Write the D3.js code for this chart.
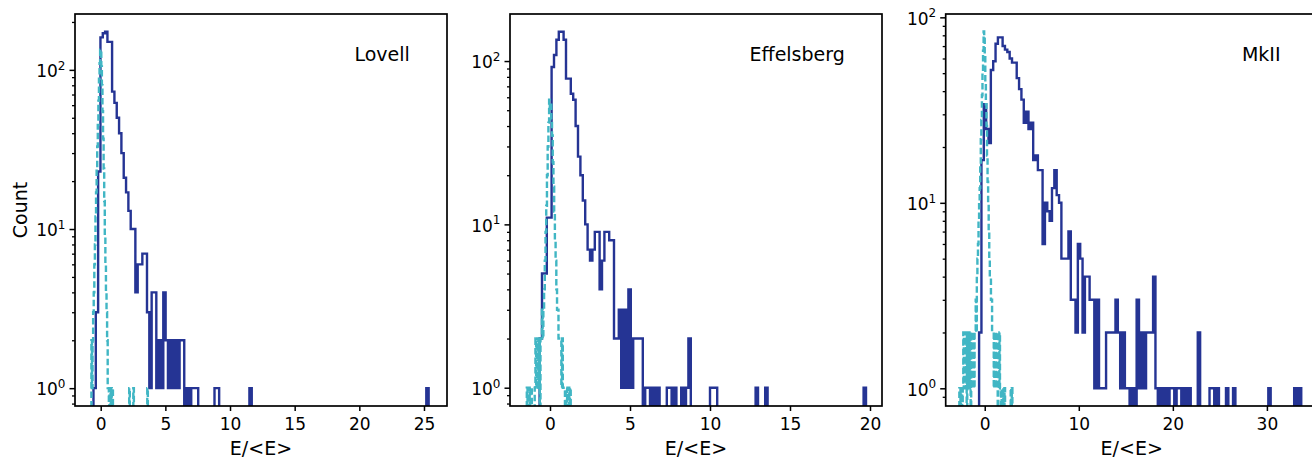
<!DOCTYPE html>
<html><head><meta charset="utf-8">
<script src="https://cdn.jsdelivr.net/npm/d3@7"></script>
<style>
html,body{margin:0;padding:0;background:#fff;}
svg{display:block;}
text{font-family:"DejaVu Sans",sans-serif;fill:#000;}
</style></head><body>
<svg id="chart" width="1312" height="458"></svg>
<script>
// ---------------- DATA ----------------
const telescopes = ["Lovell", "Effelsberg", "MkII"];
const xTickValues = [[0, 5, 10, 15, 20, 25], [0, 5, 10, 15, 20], [0, 10, 20, 30]];
const yTickExponents = [0, 1, 2];
const xAxisLabel = "E/<E>";
const yAxisLabel = "Count";

// on-pulse histograms (bin start, bin width, counts)
const lovellOnStart = -0.56, lovellOnWidth = 0.18;
const lovellOnCounts = [1,3,23,160,170,174,150,150,73,62, 50,40,30,21,17,13,10,10,4,6,
  6,7,7,3,1,4,4,1,2,1, 4,2,1,2,1,2,1,2,2,0, 1,0,1,1,1,0,0,0,0,0,
  0,0,1,1,0,0,0,0,0,0, 0,0,0,0,0,0,0,1,0,0, 0,0,0,0,0,0,0,0,0,0,
  0,0,0,0,0,0,0,0,0,0, 0,0,0,0,0,0,0,0,0,0, 0,0,0,0,0,0,0,0,0,0,
  0,0,0,0,0,0,0,0,0,0, 0,0,0,0,0,0,0,0,0,0, 0,0,0,0,0,0,0,0,0,0,
  0,0,0,1];
const effelsbergOnStart = -0.65, effelsbergOnWidth = 0.15;
const effelsbergOnCounts = [2,5,5,11,11,92,109,135,151,151, 135,78,78,63,58,40,26,20,14,10,
  7,6,7,9,9,4,6,9,9,8, 8,2,2,3,1,3,1,4,1,2, 2,2,2,0,1,1,0,1,0,1,
  0,0,0,1,1,0,1,0,0,1, 0,1,2,0,0,0,0,0,0,0, 0,1,1,1,0,0,0,0,0,0,
  0,0,0,0,0,0,0,0,0,0, 1,0,0,0,1,0,0,0,0,0, 0,0,0,0,0,0,0,0,0,0,
  0,0,0,0,0,0,0,0,0,0, 0,0,0,0,0,0,0,0,0,0, 0,0,0,0,0,1];
const mkiiOnStart = -0.6, mkiiOnWidth = 0.25;
const mkiiOnCounts = [2,17,34,25,21,52,58,72,78,78, 70,67,65,60,57,57,47,41,36,27,
  31,25,27,17,18,15,15,6,10,9, 8,12,15,11,10,5,5,5,7,3, 3,2,6,5,2,4,4,3,3,1,
  3,1,1,1,2,2,2,2,3,2, 1,2,1,1,0,1,0,3,1,2, 1,2,2,2,4,1,0,1,0,1,
  0,1,1,0,1,1,0,1,0,1, 0,0,0,2,0,0,0,0,1,1, 0,1,0,0,0,1,0,0,1,0,
  0,0,0,0,0,0,0,0,0,0, 0,0,0,1,0,0,0,0,0,0, 0,0,0,0,1,0,1];

// off-pulse histograms
const lovellOffStart = -0.72, lovellOffWidth = 0.045;
const lovellOffCounts = [2,1,2,3,4,6,8,12,17,24, 33,45,64,88,110,134,128,105,80,55,
  37,24,15,9,6,4,3,2,1,1, 0,1,1,0,1,0,1,0,0,0, 0,0,0,0,0,0,0,0,0,0,
  0,0,0,0,0,0,0,0,0,0, 0,0,0,0,0,1,0,0,0,0, 0,0,1,0,0,0,0,0,0,0,
  0,0,0,0,0,0,0,0,0,0, 0,0,0,0,0,0,1];
const effelsbergOffStart = -1.45, effelsbergOffWidth = 0.045;
const effelsbergOffCounts = [1,0,1,1,0,1,1,0,0,0, 0,1,2,1,2,2,1,2,0,2,
  2,3,2,3,4,6,9,13,20,30, 42,58,52,55,44,35,24,17,12,8,
  6,4,3,3,2,2,2,2,1,2, 1,1,1,0,1,1,0,1,1,0, 1];
const mkiiOffStart = -2.7, mkiiOffWidth = 0.06;
const mkiiOffCounts = [1,1,0,1,1,0,1,2,1,2, 2,1,2,0,2,1,2,2,1,2,
  0,2,2,1,2,2,1,2,2,3, 2,4,5,6,8,10,12,16,22,28,
  38,50,66,84,80,62,45,34,26,18, 13,10,7,5,4,4,3,3,2,2,
  2,1,2,2,2,1,2,2,0,2, 1,2,1,1,0,1,0,1,0,0, 1,0,0,0,0,0,0,0,0,0, 0,1,0,1];

// ---------------- LAYOUT ----------------
const onSeries = [
  [lovellOnStart, lovellOnWidth, lovellOnCounts],
  [effelsbergOnStart, effelsbergOnWidth, effelsbergOnCounts],
  [mkiiOnStart, mkiiOnWidth, mkiiOnCounts]];
const offSeries = [
  [lovellOffStart, lovellOffWidth, lovellOffCounts],
  [effelsbergOffStart, effelsbergOffWidth, effelsbergOffCounts],
  [mkiiOffStart, mkiiOffWidth, mkiiOffCounts]];

const frameTop = 14, frameBottom = 406, frameWidth = 372;
const panelLefts = [75, 510, 945.7];
const xDomains = [[-1.988, 26.78], [-2.5, 20.75], [-4.15, 35.4]];
const yLogDomains = [[-0.112, 2.351], [-0.112, 2.288], [-0.0954, 2.018]];
const onColor = "#253494", offColor = "#41b6c4";

const svg = d3.select("#chart");

function stepPath(x, y, start, width, counts, floorY) {
  const p = d3.path();
  p.moveTo(x(start), floorY);
  counts.forEach((c, i) => {
    const yy = c > 0 ? y(c) : floorY;
    p.lineTo(x(start + i * width), yy);
    p.lineTo(x(start + (i + 1) * width), yy);
  });
  p.lineTo(x(start + counts.length * width), floorY);
  return p.toString();
}

telescopes.forEach((name, pi) => {
  const left = panelLefts[pi];
  const right = left + frameWidth;
  const x = d3.scaleLinear().domain(xDomains[pi]).range([left, right]);
  const y = d3.scaleLog().domain(yLogDomains[pi].map(v => Math.pow(10, v))).range([frameBottom, frameTop]);
  const g = svg.append("g");

  const clipId = "clip" + pi;
  svg.append("clipPath").attr("id", clipId).append("rect")
    .attr("x", left).attr("y", frameTop).attr("width", frameWidth).attr("height", frameBottom - frameTop);

  const plot = g.append("g").attr("clip-path", `url(#${clipId})`);
  const floorY = frameBottom + 30;
  const on = onSeries[pi], off = offSeries[pi];
  plot.append("path")
    .attr("d", stepPath(x, y, on[0], on[1], on[2], floorY))
    .attr("fill", "none").attr("stroke", onColor).attr("stroke-width", 2.4)
    .attr("stroke-linejoin", "miter");
  plot.append("path")
    .attr("d", stepPath(x, y, off[0], off[1], off[2], floorY))
    .attr("fill", "none").attr("stroke", offColor).attr("stroke-width", 2.4)
    .attr("stroke-dasharray", "6.5,3").attr("stroke-linejoin", "miter");

  // x axis
  const xa = g.append("g").attr("transform", `translate(0,${frameBottom})`)
    .call(d3.axisBottom(x).tickValues(xTickValues[pi]).tickSize(5).tickPadding(6.5).tickFormat(d3.format("d")));
  xa.select(".domain").remove();
  xa.selectAll(".tick line").attr("stroke", "#000").attr("stroke-width", 1.5);
  xa.selectAll(".tick text").attr("font-size", 17).attr("font-family", "DejaVu Sans").attr("fill", "#000");

  // y axis minor ticks
  const minors = [];
  for (let k = -1; k <= 2; k++) for (let m = 2; m <= 9; m++) {
    const v = m * Math.pow(10, k);
    if (Math.log10(v) >= yLogDomains[pi][0] && Math.log10(v) <= yLogDomains[pi][1]) minors.push(v);
  }
  const ym = g.append("g").attr("transform", `translate(${left},0)`)
    .call(d3.axisLeft(y).tickValues(minors).tickSize(3).tickFormat(""));
  ym.select(".domain").remove();
  ym.selectAll(".tick line").attr("stroke", "#000").attr("stroke-width", 1.3);

  // y axis major ticks
  const majors = yTickExponents.map(e => Math.pow(10, e));
  const ya = g.append("g").attr("transform", `translate(${left},0)`)
    .call(d3.axisLeft(y).tickValues(majors).tickSize(5.5).tickPadding(4).tickFormat(""));
  ya.select(".domain").remove();
  ya.selectAll(".tick line").attr("stroke", "#000").attr("stroke-width", 1.5);
  ya.selectAll(".tick text").each(function(d) {
    const t = d3.select(this).attr("font-size", 17).attr("font-family", "DejaVu Sans")
      .attr("fill", "#000").attr("dy", "0.4em");
    t.append("tspan").text("10");
    t.append("tspan").attr("font-size", 12).attr("dy", "-0.62em").text(String(Math.round(Math.log10(d))));
  });

  // frame
  g.append("rect").attr("x", left).attr("y", frameTop).attr("width", frameWidth)
    .attr("height", frameBottom - frameTop).attr("fill", "none").attr("stroke", "#000").attr("stroke-width", 1.7);

  // telescope name
  g.append("text").attr("x", left + 0.9 * frameWidth).attr("y", 61)
    .attr("text-anchor", "end").attr("font-size", 19).text(name);

  // x label
  g.append("text").attr("x", left + frameWidth / 2).attr("y", 455)
    .attr("text-anchor", "middle").attr("font-size", 19).text(xAxisLabel);

  if (pi === 0) {
    g.append("text").attr("transform", `translate(26.5,${(frameTop + frameBottom) / 2}) rotate(-90)`)
      .attr("text-anchor", "middle").attr("font-size", 19).text(yAxisLabel);
  }
});
</script>
</body></html>
